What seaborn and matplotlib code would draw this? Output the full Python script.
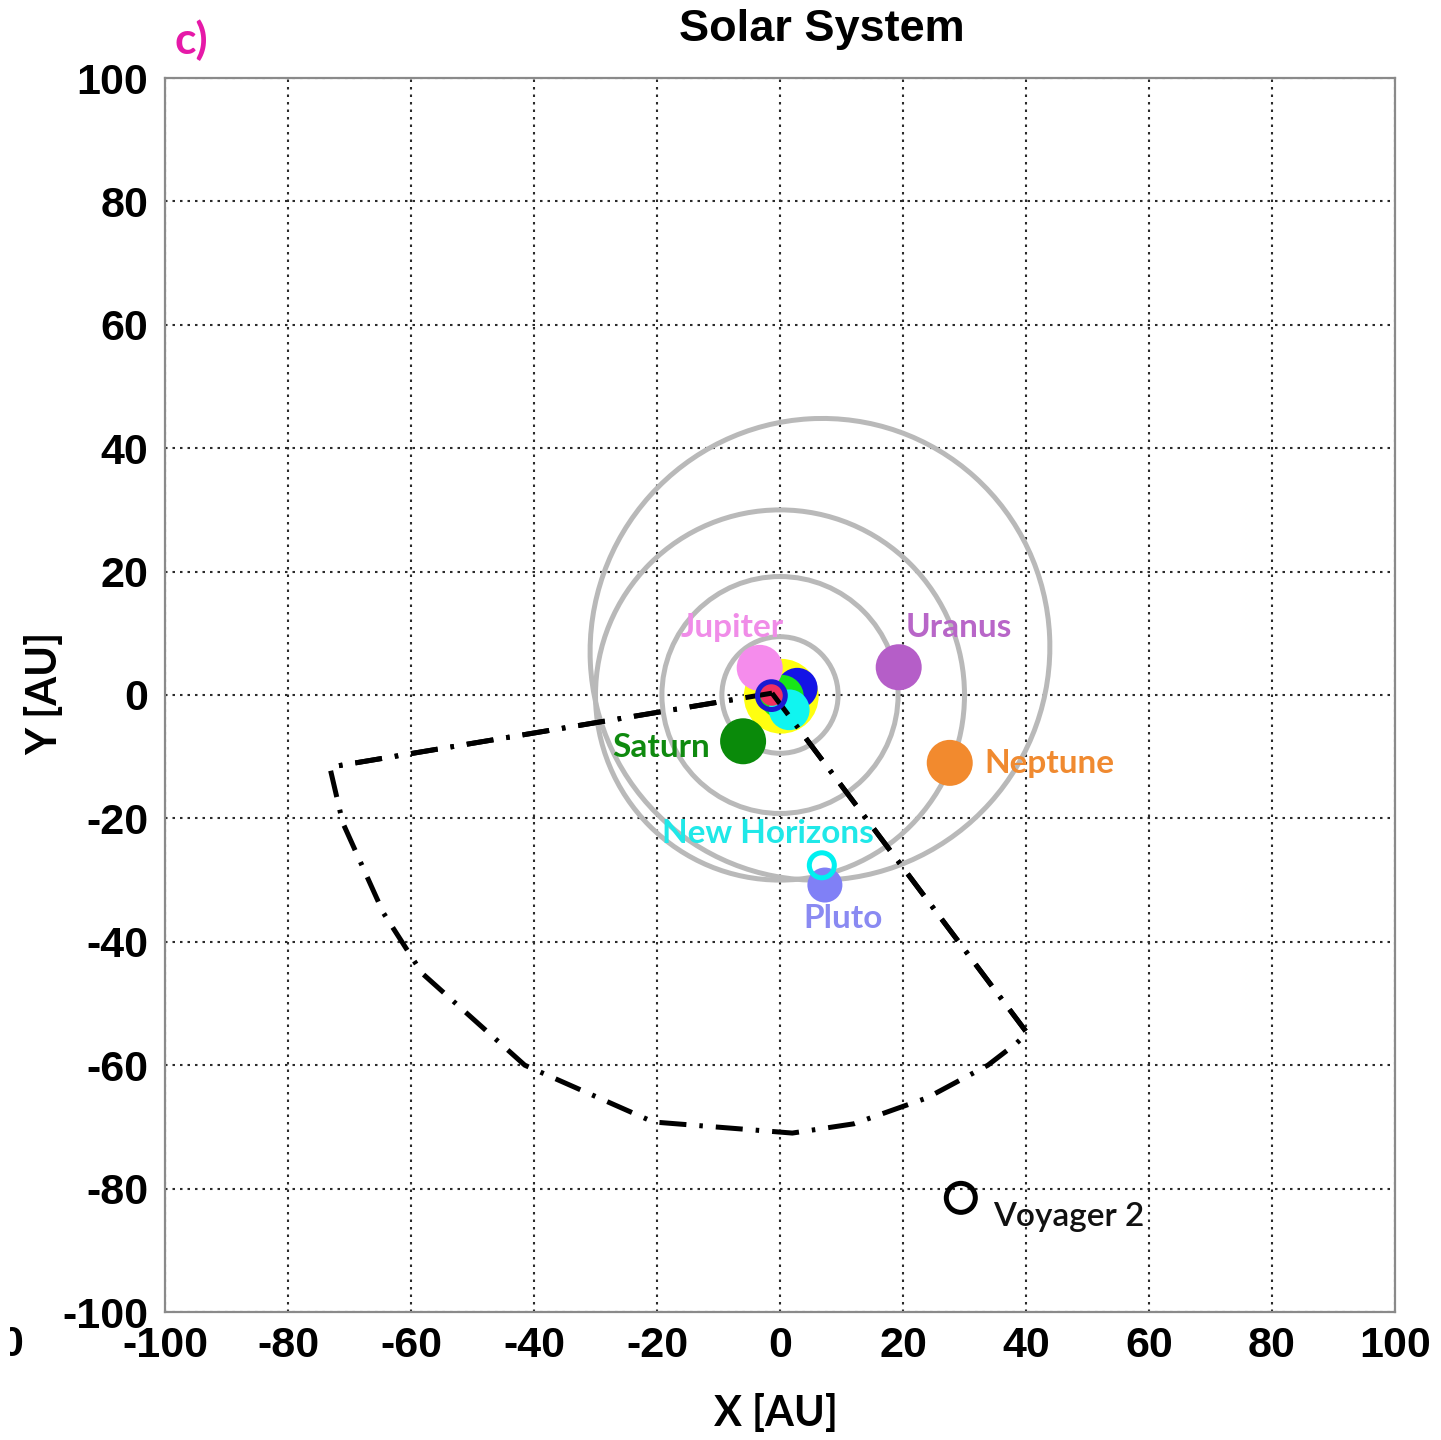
import numpy as np
import pandas as pd
import matplotlib
matplotlib.use("Agg")
import matplotlib.pyplot as plt
from matplotlib.patches import Circle, Ellipse, Rectangle
import seaborn as sns

# ---------------- data (AU) ----------------
tick_values = [-100, -80, -60, -40, -20, 0, 20, 40, 60, 80, 100]
tick_labels = ["-100", "-80", "-60", "-40", "-20", "0", "20", "40", "60", "80", "100"]

# circular orbit radii (Saturn, Uranus, Neptune)
orbit_radii = [9.45, 19.2, 30.0]
# Pluto orbit (projected ellipse): centre x, centre y, width, height, angle
pluto_orbit_cx = 6.5
pluto_orbit_cy = 7.4
pluto_orbit_w = 75.2
pluto_orbit_h = 74.4
pluto_orbit_angle = 48.0

# inner cluster of markers near the Sun
inner_names = ["sun", "blue", "green", "cyan", "Jupiter", "red"]
inner_x = [0.2, 2.8, 0.3, 1.5, -3.3, -1.3]
inner_y = [-0.2, 1.1, -0.3, -2.4, 4.4, 0.2]

# outer planets
planet_names = ["Saturn", "Uranus", "Neptune", "Pluto"]
planet_x = [-6.0, 19.3, 27.6, 7.3]
planet_y = [-7.5, 4.5, -11.0, -30.8]

# spacecraft (hollow rings)
craft_names = ["Earth ring", "New Horizons", "Voyager 2"]
craft_x = [-1.4, 6.8, 29.4]
craft_y = [-0.1, -27.6, -81.5]

# field-of-view boundary (dash-dot)
fov_x = [-1.3, -73.2, -71.1, -64.5, -58.2, -41.5, -20.6, 2.0, 12.0, 23.9, 33.8, 38.5, 40.2, -1.3]
fov_y = [0.3, -11.7, -20.7, -35.3, -45.1, -60.0, -69.2, -71.0, -69.5, -65.3, -60.0, -56.4, -54.8, 0.3]

# labels: text, x, y (baseline)
label_text = ["Jupiter", "Uranus", "Saturn", "Neptune", "New Horizons", "Pluto", "Voyager 2"]
label_x = [-7.8, 29.1, -19.3, 33.3, -2.0, 10.2, 34.6]
label_y = [9.4, 9.4, -10.1, -12.6, -24.0, -37.8, -86.1]

# ---------------- styles ----------------
inner_colors = {"sun": "#ffff10", "blue": "#1414e6", "green": "#18e618", "cyan": "#10f5f0",
                "Jupiter": "#f58cec", "red": "#f03060"}
inner_sizes = {"sun": 2900, "blue": 860, "green": 1000, "cyan": 860, "Jupiter": 1097, "red": 300}
planet_colors = {"Saturn": "#0a8a0a", "Uranus": "#b55ec8", "Neptune": "#f28a2e", "Pluto": "#8080f6"}
planet_sizes = {"Saturn": 1097, "Uranus": 1097, "Neptune": 1097, "Pluto": 635}
craft_colors = {"Earth ring": "#1a1ad2", "New Horizons": "#00f0f0", "Voyager 2": "#000000"}
craft_sizes = {"Earth ring": 400, "New Horizons": 324, "Voyager 2": 436}
label_colors = {"Jupiter": "#f08ce8", "Uranus": "#b866c8", "Saturn": "#0f8a0f", "Neptune": "#f08a30",
                "New Horizons": "#20e8e8", "Pluto": "#8a8af2", "Voyager 2": "#111111"}

sns.set_style("white")
plt.rcParams["font.family"] = ["Liberation Sans", "DejaVu Sans"]
plt.rcParams["text.color"] = "black"
plt.rcParams["xtick.color"] = "black"
plt.rcParams["ytick.color"] = "black"

W, H = 1441, 1440
fig = plt.figure(figsize=(W / 100, H / 100), dpi=100)
ax = fig.add_axes([165 / W, 1 - 1312 / H, (1395 - 165) / W, (1312 - 78) / H])

ax.set_xlim(-100, 100)
ax.set_ylim(-100, 100)

# grid
ax.set_xticks(tick_values)
ax.set_yticks(tick_values)
ax.grid(True, linestyle=(0, (1.2, 2.4)), color="#2a2a2a", linewidth=1.5)
ax.set_axisbelow(True)
for sp in ax.spines.values():
    sp.set_color("#8a8a8a")
    sp.set_linewidth(1.6)
ax.set_xticklabels(tick_labels, fontsize=31, fontweight="bold", family="Liberation Sans", color="black")
ax.set_yticklabels(tick_labels, fontsize=31, fontweight="bold", family="Liberation Sans", color="black")
ax.tick_params(axis="both", length=0)
ax.tick_params(axis="x", pad=10)
ax.tick_params(axis="y", pad=12)

# orbits
orbit_col = "#b9b9b9"
for r in orbit_radii:
    ax.add_patch(Circle((0, 0), r, fill=False, ec=orbit_col, lw=3.6, zorder=2))
ax.add_patch(Ellipse((pluto_orbit_cx, pluto_orbit_cy), pluto_orbit_w, pluto_orbit_h,
                     angle=pluto_orbit_angle, fill=False, ec=orbit_col, lw=3.6, zorder=2))

# field of view
dashdot = (0, (5.4, 2.6, 0.7, 2.6))
ax.plot(fov_x, fov_y, color="black", lw=3.6, linestyle=dashdot, zorder=3)

# inner markers
inner_df = pd.DataFrame({"name": inner_names, "x": inner_x, "y": inner_y})
for i, row in inner_df.iterrows():
    sns.scatterplot(x=[row.x], y=[row.y], ax=ax, s=inner_sizes[row["name"]],
                    color=inner_colors[row["name"]], edgecolor="none", linewidth=0,
                    zorder=4 + i * 0.01, legend=False)

# planets
planet_df = pd.DataFrame({"name": planet_names, "x": planet_x, "y": planet_y})
for _, row in planet_df.iterrows():
    sns.scatterplot(x=[row.x], y=[row.y], ax=ax, s=planet_sizes[row["name"]],
                    color=planet_colors[row["name"]], edgecolor="none", linewidth=0,
                    zorder=4, legend=False)

# dash-dot start drawn over the inner disks
ax.plot(fov_x[:2], fov_y[:2], color="black", lw=3.6, linestyle=dashdot, zorder=4.3)
ax.plot(fov_x[-2:][::-1], fov_y[-2:][::-1], color="black", lw=3.6, linestyle=dashdot, zorder=4.3)

# spacecraft rings
craft_df = pd.DataFrame({"name": craft_names, "x": craft_x, "y": craft_y})
for _, row in craft_df.iterrows():
    sns.scatterplot(x=[row.x], y=[row.y], ax=ax, s=craft_sizes[row["name"]],
                    facecolor="none", edgecolor=craft_colors[row["name"]], linewidth=3.6,
                    zorder=5, legend=False)

# labels
for t, x, y in zip(label_text, label_x, label_y):
    ha = "left" if t in ("Neptune", "Voyager 2") else "center"
    wt = "semibold" if t == "Voyager 2" else "bold"
    ax.text(x, y, t, color=label_colors[t], fontsize=24, fontweight=wt, family="Lato",
            ha=ha, va="baseline", zorder=6)

ax.set_xlabel("")
ax.set_ylabel("")

# titles and axis labels
fig.text(822 / W, 1 - 30 / H, "Solar System", fontsize=32.5, fontweight="bold",
         family="Liberation Sans", ha="center", va="center", color="black")
fig.text(191 / W, 1 - 40 / H, "c)", fontsize=32, fontweight="bold", family="Lato",
         color="#e619a8", ha="center", va="center")
fig.text(776 / W, 1 - 1413 / H, "X [AU]", fontsize=30, fontweight="bold", family="Lato",
         ha="center", va="center", color="black")
fig.text(45 / W, 1 - 693 / H, "Y [AU]", fontsize=30, fontweight="bold", family="Lato",
         ha="center", va="center", rotation=90, color="black")
# clipped label from neighbouring panel
fig.text(23 / W, 1 - 1345 / H, "0", fontsize=31, fontweight="bold", family="Liberation Sans",
         ha="right", va="center", color="black", zorder=1)
fig.patches.append(Rectangle((0, 0), 10 / W, 1, transform=fig.transFigure, facecolor="white",
                             edgecolor="none", zorder=10))

fig.savefig("out.png", dpi=100)
